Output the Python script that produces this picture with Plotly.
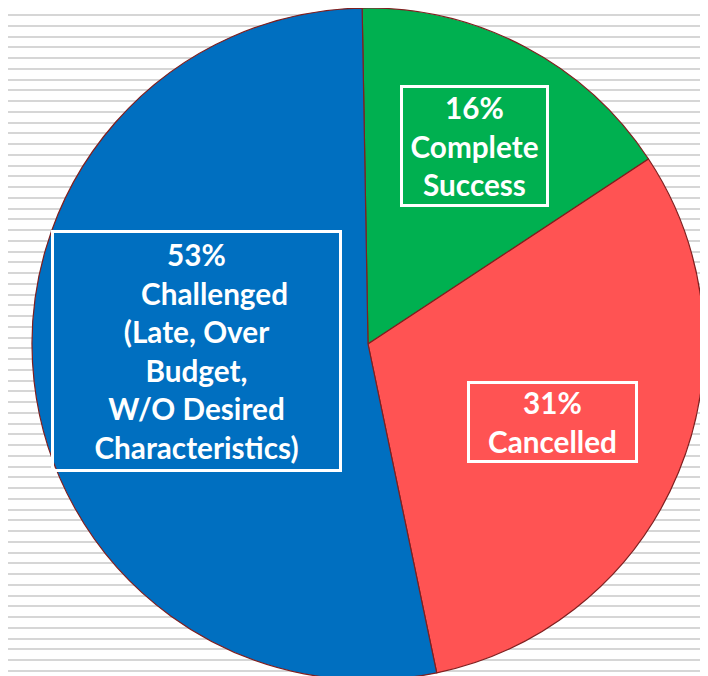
import plotly.graph_objects as go

# ---- data ----
categories = ["Complete Success", "Cancelled", "Challenged"]
values = [16, 31, 53]
label_lines = [
    ["Complete", "Success"],
    ["Cancelled"],
    ["\u00a0" * 5 + "Challenged", "(Late, Over", "Budget,", "W/O Desired", "Characteristics)"],
]
colors = ["#00B050", "#FF5353", "#006FC0"]

W, H = 708, 676
OFF = 8  # page body margin: figure starts at (8, 8) in the window

# pie geometry in window pixels
CX, CY, R = 368, 344, 336

fig = go.Figure()
# empty cartesian trace so the striped background grid is drawn
fig.add_trace(go.Scatter(x=[], y=[], showlegend=False, hoverinfo="skip"))
fig.add_trace(go.Pie(
    labels=categories, values=values, sort=False, direction="clockwise", rotation=-1,
    marker=dict(colors=colors, line=dict(color="#7f1f1f", width=1.2)),
    textinfo="none", hoverinfo="skip", showlegend=False,
    domain=dict(
        x=[(CX - R - OFF) / W, (CX + R - OFF) / W],
        y=[1 - (CY + R - OFF) / H, 1 - (CY - R - OFF) / H],
    ),
))

# label boxes: (center x, center y, inner width, inner height) in window pixels
boxes = [(474.5, 146, 143, 116), (552.5, 422, 165, 76), (196, 350.5, 285, 236)]
annotations = []
for (cx, cy, bw, bh), v, lines in zip(boxes, values, label_lines):
    all_lines = [f"{v}%"] + lines
    annotations.append(dict(
        x=cx, y=cy, xref="x", yref="y", text="<br>".join(all_lines), showarrow=False,
        width=bw, height=bh, align="center", valign="middle",
        bordercolor="white", borderwidth=3, borderpad=0,
        font=dict(family="Lato", size=29.7, color="white", weight="bold"),
    ))

fig.update_layout(
    width=W, height=H, margin=dict(l=0, r=0, t=0, b=0),
    paper_bgcolor="white", plot_bgcolor="white",
    xaxis=dict(range=[OFF, W + OFF], showgrid=False, zeroline=False, showticklabels=False,
               ticks="", showline=False, fixedrange=True),
    yaxis=dict(range=[H + OFF, OFF], showgrid=True, gridcolor="#d6d6d6", gridwidth=2,
               tick0=4.3, dtick=10.75, zeroline=False, showticklabels=False,
               ticks="", showline=False, fixedrange=True),
    annotations=annotations,
    showlegend=False,
)

fig.write_html("out.html")
